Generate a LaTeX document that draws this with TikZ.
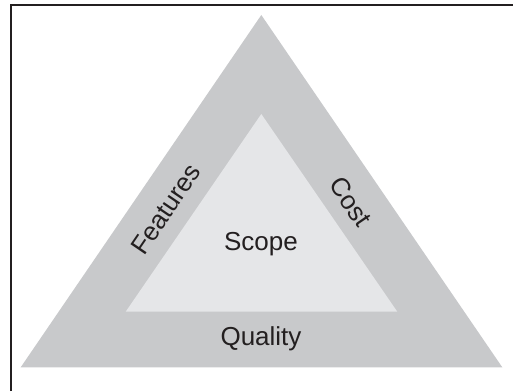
\documentclass[tikz,border=0pt]{standalone}
\usepackage{fontspec}
\setmainfont{Liberation Sans}
\definecolor{outergray}{HTML}{C8C9CB}
\definecolor{innergray}{HTML}{E5E6E8}
\definecolor{inkc}{HTML}{231F20}
\begin{document}
\begin{tikzpicture}[x=1pt,y=1pt,
  lbl/.style={text=inkc,font=\fontsize{26}{30}\selectfont,inner sep=0pt},
  frameline/.style={draw=inkc,line width=1.5pt}]
\useasboundingbox (0,0) rectangle (513,391);
\coordinate (oa) at (261.3,376);
\coordinate (ol) at (20.7,23.7);
\coordinate (or) at (502.3,23.7);
\coordinate (ia) at (261.3,277);
\coordinate (il) at (125.7,79.3);
\coordinate (ir) at (397.3,79.3);
\fill[outergray] (ol) -- (or) -- (oa) -- cycle;
\fill[innergray] (il) -- (ir) -- (ia) -- cycle;
\coordinate (fb) at (11,0);
\coordinate (fc) at (11,386);
\coordinate (fr) at (513,386);
\draw[frameline] (fb) -- (fc) -- (fr);
\node[lbl] (scope) at (261,147) {Scope};
\node[lbl] (quality) at (261,52) {Quality};
\node[lbl,rotate=55.7] (features) at (165.8,182) {Features};
\node[lbl,rotate=-55.7] (cost) at (350.7,189.3) {Cost};
\end{tikzpicture}
\end{document}
